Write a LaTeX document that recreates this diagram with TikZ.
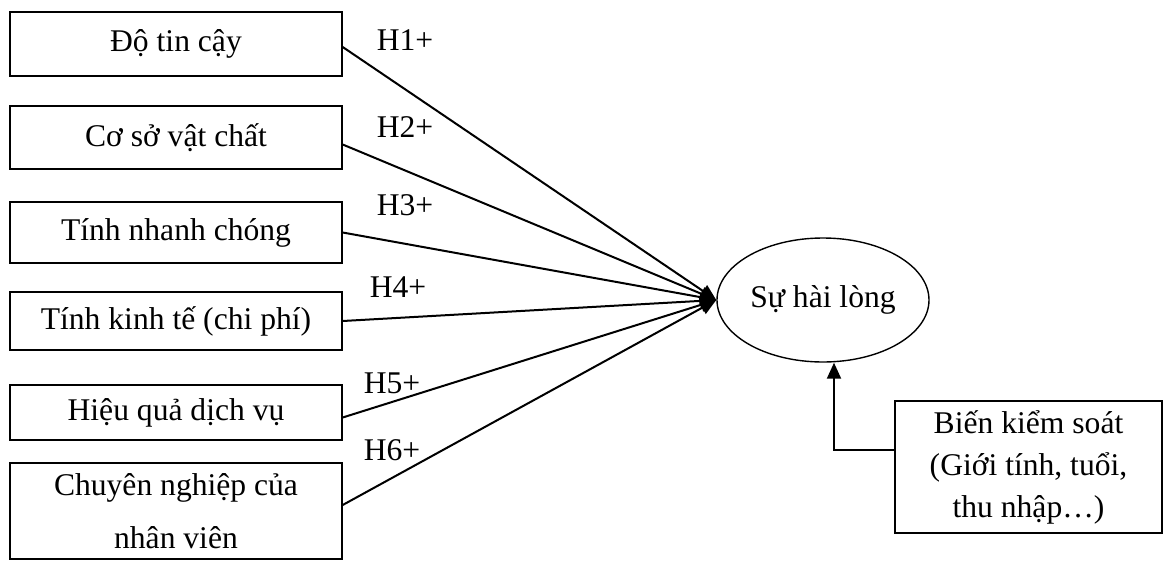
\documentclass[tikz,border=0pt]{standalone}
\usepackage{fontspec}
\setmainfont{Liberation Serif}
\usetikzlibrary{arrows.meta,calc,shapes.geometric}

\begin{document}
\begin{tikzpicture}[x=0.5pt,y=-0.5pt,>={Triangle[length=8pt,width=7pt]},
    factor/.style={draw,line width=0.7pt,rectangle,minimum width=166pt,inner sep=0pt,align=center},
    hyp/.style={inner sep=0pt},
    link/.style={->,line width=1pt}]
  \useasboundingbox (0,0) rectangle (1164,563);
  \fontsize{15.8}{21}\selectfont
  \node[factor,minimum height=32pt] (b1) at (176,44) {Độ tin cậy};
  \node[factor,minimum height=31.5pt] (b2) at (176,137.5) {Cơ sở vật chất};
  \node[factor,minimum height=30.5pt] (b3) at (176,232.5) {Tính nhanh chóng};
  \node[factor,minimum height=29pt] (b4) at (176,321) {Tính kinh tế (chi phí)};
  \node[factor,minimum height=27.5pt] (b5) at (176,412.5) {Hiệu quả dịch vụ};
  \node[factor,minimum height=48pt,font=\fontsize{15.8}{26.5}\selectfont] (b6) at (176,511) {Chuyên nghiệp của\\nhân viên};
  \node[draw,ellipse,line width=0.7pt,minimum width=106pt,minimum height=62pt,inner sep=0pt] (sat) at (823,300) {Sự hài lòng};
  \node[factor,minimum width=133.5pt,minimum height=66pt,font=\fontsize{15.8}{21}\selectfont] (ctl) at (1028.5,467) {Biến kiểm soát\\(Giới tính, tuổi,\\thu nhập…)};
  % hypotheses
  \node[hyp] (h1) at (405,40) {H1+};
  \node[hyp] (h2) at (405,127) {H2+};
  \node[hyp] (h3) at (405,205) {H3+};
  \node[hyp] (h4) at (398,287) {H4+};
  \node[hyp] (h5) at (392,383) {H5+};
  \node[hyp] (h6) at (392,450) {H6+};
  \foreach \b/\d in {b1/3,b2/7,b3/0,b4/0,b5/5,b6/-6}
    \draw[link] ($(\b.east)+(0,\d)$) -- (sat.west);
  \draw[link] ($(ctl.west)+(0,-17)$) -| ($(sat.south)+(11,0)$);
\end{tikzpicture}
\end{document}
